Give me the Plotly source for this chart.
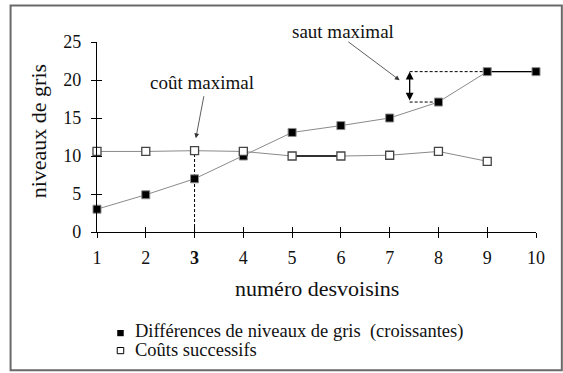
import plotly.graph_objects as go

# Neighbour index on the x axis
voisins = [1, 2, 3, 4, 5, 6, 7, 8, 9, 10]
# Grey-level differences, sorted increasingly
differences = [3.0, 4.9, 7.0, 10.0, 13.1, 14.0, 15.0, 17.1, 21.1, 21.1]
# Successive costs (one fewer point)
couts = [10.6, 10.6, 10.7, 10.6, 10.0, 10.0, 10.1, 10.6, 9.3]

x_tick_vals = [1, 2, 3, 4, 5, 6, 7, 8, 9, 10]
x_tick_text = ["1", "2", "<b>3</b>", "4", "5", "6", "7", "8", "9", "10"]
y_tick_vals = [0, 5, 10, 15, 20, 25]

legend_labels = ["Différences de niveaux de gris  (croissantes)", "Coûts successifs"]

W, H = 563, 373
L, R, T, B = 97.3, 27.3, 42.3, 140.7
FONT = "Liberation Serif"
INK = "#111111"
DASH = "3px,2px"


def px_x(p):
    return (p - L) / (W - L - R)


def px_y(p):
    return (H - B - p) / (H - T - B)


def label(px, py, text, size, anchor="center", angle=0):
    fig.add_annotation(x=px_x(px), y=px_y(py), xref="paper", yref="paper",
                       xanchor=anchor, yanchor="middle", text=text,
                       textangle=angle, showarrow=False, borderpad=0,
                       font=dict(size=size, family=FONT, color=INK))


fig = go.Figure()

# Costs: grey polyline
fig.add_trace(go.Scatter(
    x=voisins[:len(couts)], y=couts, mode="lines",
    line=dict(color="#8a8a8a", width=1),
    cliponaxis=False, showlegend=False, hoverinfo="skip"))
# Darker segment of the cost curve (5 -> 6)
fig.add_trace(go.Scatter(
    x=voisins[4:6], y=couts[4:6], mode="lines",
    line=dict(color="black", width=1.3),
    cliponaxis=False, showlegend=False, hoverinfo="skip"))

# Differences: grey polyline, black squares
fig.add_trace(go.Scatter(
    x=voisins, y=differences, mode="lines",
    line=dict(color="#8a8a8a", width=1),
    cliponaxis=False, showlegend=False, hoverinfo="skip"))
fig.add_trace(go.Scatter(
    x=voisins[8:10], y=differences[8:10], mode="lines",
    line=dict(color="black", width=1.3),
    cliponaxis=False, showlegend=False, hoverinfo="skip"))
fig.add_trace(go.Scatter(
    x=voisins, y=differences, mode="markers",
    marker=dict(symbol="square", size=8, color="black",
                line=dict(color="#8c8c8c", width=1)),
    cliponaxis=False, showlegend=False, hoverinfo="skip"))

# Cost markers (white squares) on top where they overlap
fig.add_trace(go.Scatter(
    x=voisins[:len(couts)], y=couts, mode="markers",
    marker=dict(symbol="square", size=8, color="white",
                line=dict(color="#444444", width=1.3)),
    cliponaxis=False, showlegend=False, hoverinfo="skip"))

# Helper traces for the inner halves of the crossing ticks
fig.add_trace(go.Scatter(x=[1], y=[0], xaxis="x2", yaxis="y", mode="none",
                         showlegend=False, hoverinfo="skip"))
fig.add_trace(go.Scatter(x=[1], y=[0], xaxis="x", yaxis="y2", mode="none",
                         showlegend=False, hoverinfo="skip"))

axis_common = dict(showgrid=False, zeroline=False, showline=True,
                   linecolor="black", linewidth=1.3, tickcolor="black",
                   tickwidth=1.3, ticklen=5)

fig.update_layout(
    width=W, height=H,
    margin=dict(l=L, r=R, t=T, b=B),
    paper_bgcolor="white", plot_bgcolor="white",
    font=dict(family=FONT, color=INK, size=18),
    xaxis=dict(range=[1, 10], tickvals=x_tick_vals, ticktext=x_tick_text,
               ticks="outside", tickfont=dict(size=18, family=FONT, color=INK),
               ticklabelstandoff=4, **axis_common),
    xaxis2=dict(range=[1, 10], overlaying="x", anchor="y", side="bottom",
                tickvals=x_tick_vals, ticks="inside", showticklabels=False,
                **axis_common),
    yaxis=dict(range=[0, 25], tickvals=y_tick_vals, ticks="outside",
               tickfont=dict(size=18, family=FONT, color=INK),
               ticklabelstandoff=6, **axis_common),
    yaxis2=dict(range=[0, 25], overlaying="y", anchor="x", side="left",
                tickvals=y_tick_vals, ticks="inside", showticklabels=False,
                **axis_common),
)

# Dashed guide at the maximal cost
fig.add_shape(type="line", xref="x", yref="y",
              x0=voisins[2], x1=voisins[2], y0=0, y1=couts[2],
              line=dict(color="black", width=1, dash=DASH), layer="below")

# Maximal jump: dashed levels and double arrow
jump_x = 7.41
fig.add_shape(type="line", xref="x", yref="y",
              x0=jump_x, x1=voisins[8], y0=differences[8], y1=differences[8],
              line=dict(color="black", width=1, dash=DASH), layer="below")
fig.add_shape(type="line", xref="x", yref="y",
              x0=jump_x, x1=voisins[7], y0=differences[7], y1=differences[7],
              line=dict(color="black", width=1, dash=DASH), layer="below")
fig.add_annotation(x=jump_x, y=differences[8], ax=jump_x, ay=differences[7],
                   xref="x", yref="y", axref="x", ayref="y", text="",
                   showarrow=True, arrowhead=2, arrowside="end+start",
                   arrowsize=1.2, arrowwidth=1.3, arrowcolor="black",
                   standoff=0, startstandoff=0)

# Pointer labels and their arrows
label(202, 83, "coût maximal", 19)
fig.add_annotation(x=px_x(196), y=px_y(138.5), ax=204.3 - 196, ay=95 - 138.5,
                   xref="paper", yref="paper", axref="pixel", ayref="pixel",
                   text="", showarrow=True, arrowhead=2, arrowsize=1.2,
                   arrowwidth=0.8, arrowcolor="#333333")
label(342.5, 32, "saut maximal", 19)
fig.add_annotation(x=px_x(399.5), y=px_y(80.5), ax=346.7 - 399.5, ay=41 - 80.5,
                   xref="paper", yref="paper", axref="pixel", ayref="pixel",
                   text="", showarrow=True, arrowhead=2, arrowsize=1.2,
                   arrowwidth=0.8, arrowcolor="#333333")

# Axis titles
label(316.5, 289, "numéro desvoisins", 22)
label(38.5, 131.5, "niveaux de gris", 22, angle=-90)

# Key
fig.add_shape(type="rect", xref="paper", yref="paper",
              x0=px_x(117.5), x1=px_x(124), y0=px_y(330.3), y1=px_y(336.5),
              fillcolor="black", line=dict(width=0))
fig.add_shape(type="rect", xref="paper", yref="paper",
              x0=px_x(117.5), x1=px_x(124), y0=px_y(347.8), y1=px_y(354),
              fillcolor="white", line=dict(color="black", width=1))
label(134, 332, legend_labels[0], 18.5, anchor="left")
label(134, 350.5, legend_labels[1], 18.5, anchor="left")

# Frame around the whole figure
fig.add_shape(type="rect", xref="paper", yref="paper",
              x0=px_x(11), x1=px_x(561.5), y0=px_y(5.8), y1=px_y(370.5),
              line=dict(color="#6a6a6a", width=2), fillcolor="rgba(0,0,0,0)")

fig.write_html("out.html")
